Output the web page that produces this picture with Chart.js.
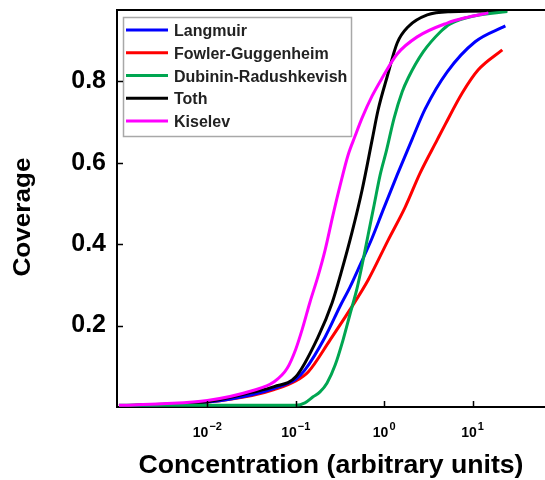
<!DOCTYPE html>
<html><head><meta charset="utf-8">
<script src="https://cdn.jsdelivr.net/npm/chart.js@4.4.1/dist/chart.umd.min.js"></script>
<style>html,body{margin:0;padding:0;background:#fff}canvas{display:block}</style>
</head><body>
<canvas id="c" width="545" height="480"></canvas>
<script>
// ---- data ----
const seriesNames = ['Langmuir', 'Fowler-Guggenheim', 'Dubinin-Radushkevish', 'Toth', 'Kiselev'];
const seriesColors = ['#0000FF', '#FF0000', '#00A651', '#000000', '#FF00FF'];

const langmuirX = [0.001, 0.00314, 0.01, 0.032, 0.057, 0.10, 0.127, 0.215, 0.318, 0.412, 0.535, 0.731, 0.974, 1.404, 2.075, 2.912, 5.17, 10.7, 23.5];
const langmuirY = [0.003, 0.006, 0.012, 0.030, 0.046, 0.068, 0.091, 0.172, 0.248, 0.295, 0.349, 0.415, 0.484, 0.570, 0.658, 0.732, 0.823, 0.897, 0.936];

const fowlerX = [0.001, 0.00314, 0.01, 0.032, 0.057, 0.10, 0.138, 0.245, 0.402, 0.659, 1.11, 1.73, 2.556, 3.98, 4.91, 7.64, 11.6, 21.7];
const fowlerY = [0.003, 0.006, 0.012, 0.028, 0.043, 0.064, 0.086, 0.165, 0.236, 0.312, 0.410, 0.491, 0.575, 0.656, 0.694, 0.771, 0.828, 0.877];

const dubininX = [0.001, 0.01, 0.10, 0.127, 0.157, 0.188, 0.226, 0.279, 0.343, 0.412, 0.494, 0.578, 0.659, 0.770, 0.901, 1.054, 1.298, 1.60, 1.87, 2.765, 4.31, 5.59, 10.7, 24.7];
const dubininY = [0.004, 0.004, 0.004, 0.010, 0.025, 0.037, 0.059, 0.103, 0.165, 0.229, 0.292, 0.361, 0.423, 0.496, 0.570, 0.627, 0.710, 0.774, 0.808, 0.872, 0.921, 0.941, 0.961, 0.971];

const tothX = [0.001, 0.00314, 0.01, 0.032, 0.057, 0.10, 0.179, 0.258, 0.326, 0.434, 0.563, 0.731, 0.855, 1.081, 1.404, 1.87, 3.07, 5.59, 24.7];
const tothY = [0.003, 0.007, 0.013, 0.036, 0.050, 0.074, 0.172, 0.256, 0.330, 0.430, 0.533, 0.656, 0.730, 0.811, 0.894, 0.934, 0.963, 0.971, 0.973];

const kiselevX = [0.001, 0.00314, 0.01, 0.032, 0.057, 0.080, 0.10, 0.118, 0.145, 0.179, 0.215, 0.264, 0.318, 0.391, 0.470, 0.563, 0.731, 0.949, 1.404, 2.364, 5.17, 8.27, 15.1];
const kiselevY = [0.004, 0.008, 0.016, 0.040, 0.062, 0.095, 0.142, 0.190, 0.258, 0.322, 0.386, 0.472, 0.545, 0.619, 0.666, 0.710, 0.764, 0.808, 0.867, 0.909, 0.943, 0.956, 0.968];

const xTickValues = [0.01, 0.1, 1, 10];
const xTickExponents = ['\u22122', '\u22121', '0', '1'];
const yTickValues = [0.2, 0.4, 0.6, 0.8];
const xTitle = 'Concentration (arbitrary units)';
const yTitle = 'Coverage';

// ---- chart ----
const FONT = '"Liberation Sans", Arial, Helvetica, sans-serif';
const seriesX = [langmuirX, fowlerX, dubininX, tothX, kiselevX];
const seriesY = [langmuirY, fowlerY, dubininY, tothY, kiselevY];
const drawOrder = [3, 4, 1, 2, 0];

const decor = {
  id: 'decor',
  afterDatasetsDraw(chart) {
    const { ctx, chartArea: a } = chart;
    const bx = a.left + 6, by = a.top + 7, bw = 229, bh = 120;
    ctx.save();
    ctx.fillStyle = '#fff';
    ctx.fillRect(bx, by, bw, bh);
    ctx.strokeStyle = '#a8a8a8';
    ctx.lineWidth = 1.5;
    ctx.strokeRect(bx + 0.5, by + 0.5, bw - 1, bh - 1);
    chart.data.datasets.forEach((ds, i) => {
      const ry = by + 13 + i * 22.75;
      ctx.strokeStyle = ds.borderColor;
      ctx.lineWidth = 3;
      ctx.beginPath();
      ctx.moveTo(bx + 3, ry);
      ctx.lineTo(bx + 45, ry);
      ctx.stroke();
      ctx.fillStyle = '#222';
      ctx.font = 'bold 16px ' + FONT;
      ctx.textAlign = 'left';
      ctx.textBaseline = 'alphabetic';
      ctx.fillText(ds.label, bx + 51, ry + 6);
    });
    ctx.restore();
  },
  afterDraw(chart) {
    const { ctx, chartArea: a, scales: { x, y } } = chart;
    ctx.save();
    ctx.strokeStyle = '#000';
    ctx.lineWidth = 2;
    ctx.beginPath();
    ctx.moveTo(a.left - 1, a.top);
    ctx.lineTo(a.right, a.top);
    ctx.stroke();
    ctx.lineWidth = 1.5;
    ctx.beginPath();
    yTickValues.forEach(v => {
      const py = Math.round(y.getPixelForValue(v)) + 0.5;
      ctx.moveTo(a.left, py); ctx.lineTo(a.left + 6, py);
    });
    xTickValues.forEach(v => {
      const px = Math.round(x.getPixelForValue(v)) + 0.5;
      ctx.moveTo(px, a.bottom); ctx.lineTo(px, a.bottom - 6);
    });
    ctx.stroke();
    ctx.fillStyle = '#000';
    ctx.textAlign = 'left';
    ctx.textBaseline = 'alphabetic';
    xTickValues.forEach((v, i) => {
      const px = x.getPixelForValue(v);
      ctx.font = 'bold 14px ' + FONT;
      const wb = ctx.measureText('10').width;
      ctx.font = 'bold 11px ' + FONT;
      const we = ctx.measureText(xTickExponents[i]).width;
      const start = px - (wb + we + 1) / 2;
      ctx.font = 'bold 14px ' + FONT;
      ctx.fillText('10', start, 437);
      ctx.font = 'bold 11px ' + FONT;
      ctx.fillText(xTickExponents[i], start + wb + 1, 430);
    });
    ctx.font = 'bold 25px ' + FONT;
    const wx = ctx.measureText(xTitle).width;
    ctx.save();
    ctx.translate((a.left + a.right) / 2, 473);
    ctx.scale(385 / wx, 1);
    ctx.textAlign = 'center';
    ctx.fillText(xTitle, 0, 0);
    ctx.restore();
    ctx.font = 'bold 23px ' + FONT;
    const wy = ctx.measureText(yTitle).width;
    ctx.save();
    ctx.translate(30, 217);
    ctx.rotate(-Math.PI / 2);
    ctx.scale(119 / wy, 1);
    ctx.textAlign = 'center';
    ctx.fillText(yTitle, 0, 0);
    ctx.restore();
    ctx.restore();
  }
};

new Chart(document.getElementById('c'), {
  type: 'line',
  data: {
    datasets: seriesNames.map((n, i) => ({
      label: n,
      data: seriesX[i].map((v, j) => ({ x: v, y: seriesY[i][j] })),
      borderColor: seriesColors[i],
      backgroundColor: seriesColors[i],
      borderWidth: 3,
      pointRadius: 0,
      cubicInterpolationMode: 'monotone',
      fill: false,
      order: drawOrder[i]
    }))
  },
  options: {
    responsive: false,
    animation: false,
    devicePixelRatio: 1,
    layout: { padding: { top: 10, right: 0, left: 0, bottom: 0 } },
    plugins: { legend: { display: false }, tooltip: { enabled: false } },
    scales: {
      x: {
        type: 'logarithmic',
        min: 0.00095,
        max: 66,
        grid: { display: false, drawTicks: false },
        border: { display: true, color: '#000', width: 2 },
        ticks: { display: false },
        afterBuildTicks: s => { s.ticks = xTickValues.map(v => ({ value: v })); },
        afterFit: s => { s.height = 73; s.paddingLeft = 0; s.paddingRight = 0; }
      },
      y: {
        type: 'linear',
        min: 0,
        max: 0.975,
        grid: { display: false, drawTicks: false },
        border: { display: true, color: '#000', width: 2 },
        ticks: {
          color: '#000',
          padding: 11,
          font: { family: FONT, size: 25, weight: 'bold' },
          callback: v => Number(v).toFixed(1)
        },
        afterBuildTicks: s => { s.ticks = yTickValues.map(v => ({ value: v })); },
        afterFit: s => { s.width = 117; s.paddingTop = 0; s.paddingBottom = 0; }
      }
    }
  },
  plugins: [decor]
});
</script>
</body></html>
